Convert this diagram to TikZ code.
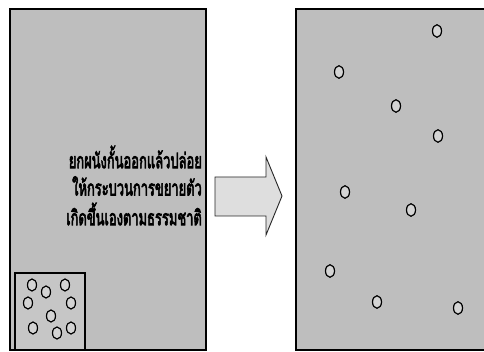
\documentclass[tikz,border=0pt]{standalone}
\usepackage{fontspec}
\newfontfamily\thaifont[Script=Thai, FakeBold=4]{Loma}
\usetikzlibrary{shapes.geometric}
\definecolor{boxgray}{HTML}{BEBEBE}
\definecolor{smallgray}{HTML}{C6C6C6}
\definecolor{arrowgray}{HTML}{DEDEDE}
\definecolor{dotgray}{HTML}{D4D4D4}
\tikzset{
  panel/.style={draw=black, line width=2.2pt, fill=boxgray},
  inset/.style={draw=black, line width=1.1pt, fill=smallgray},
  blockarrow/.style={draw=black!85, line width=0.9pt, fill=arrowgray},
  mol/.style={ellipse, draw=black, line width=1.2pt, fill=dotgray, minimum width=9pt, minimum height=12.5pt, inner sep=0pt},
  smallmol/.style={ellipse, draw=black, line width=1.2pt, fill=dotgray, minimum width=9pt, minimum height=12pt, inner sep=0pt},
  label/.style={font=\thaifont\fontsize{17}{19}\selectfont, text=black, anchor=east, inner sep=0pt, xscale=0.76, yscale=1.25}
}
\begin{document}
\begin{tikzpicture}[x=1pt,y=-1pt]
\useasboundingbox (0,0) rectangle (484,352);
\clip (0,0) rectangle (484,352);
\fill[white] (0,0) rectangle (484,352);
% left panel
\draw[panel] (10,9) rectangle (206,350);
\draw[inset] (15,273) rectangle (85,350);
% right panel
\draw[panel] (296,9) rectangle (495,350);
% text
\node[label] (t1) at (202,157) {ยกผนังกั้นออกแล้วปล่อย};
\node[label] (t2) at (202,186) {ให้กระบวนการขยายตัว};
\node[label] (t3) at (202,214) {เกิดขึ้นเองตามธรรมชาติ};
% block arrow
\draw[blockarrow] (215,177) -- (266,177) -- (266,157) -- (282,196) -- (266,235) -- (266,216) -- (215,216) -- cycle;
% molecules in inset
\node[smallmol] (a1) at (32,285) {};
\node[smallmol] (a2) at (46,292) {};
\node[smallmol] (a3) at (65,285) {};
\node[smallmol] (a4) at (28,303) {};
\node[smallmol] (a5) at (71,303) {};
\node[smallmol] (a6) at (51,316) {};
\node[smallmol] (a7) at (33,328) {};
\node[smallmol] (a8) at (57,333) {};
\node[smallmol] (a9) at (71,328) {};
% molecules spread
\node[mol] (b1) at (437,31) {};
\node[mol] (b2) at (339,72) {};
\node[mol] (b3) at (396,106) {};
\node[mol] (b4) at (438,136) {};
\node[mol] (b5) at (345,192) {};
\node[mol] (b6) at (411,210) {};
\node[mol] (b7) at (330,271) {};
\node[mol] (b8) at (377,302) {};
\node[mol] (b9) at (458,308) {};
\end{tikzpicture}
\end{document}
